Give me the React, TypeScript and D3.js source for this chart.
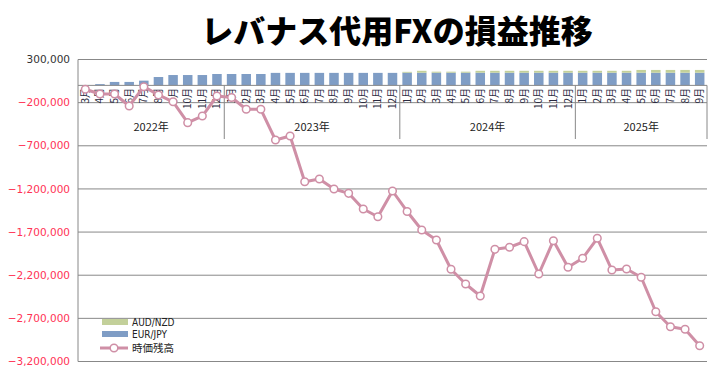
import React from "react";
import * as d3 from "d3";

const months: string[] = [
  "2022-03","2022-04","2022-05","2022-06","2022-07","2022-08","2022-09","2022-10","2022-11","2022-12",
  "2023-01","2023-02","2023-03","2023-04","2023-05","2023-06","2023-07","2023-08","2023-09","2023-10","2023-11","2023-12",
  "2024-01","2024-02","2024-03","2024-04","2024-05","2024-06","2024-07","2024-08","2024-09","2024-10","2024-11","2024-12",
  "2025-01","2025-02","2025-03","2025-04","2025-05","2025-06","2025-07","2025-08","2025-09",
];

const eurJpy: number[] = [
  0, 15000, 40000, 40000, 55000, 97000, 120000, 120000, 120000, 132000,
  132000, 132000, 132000, 145000, 145000, 145000, 145000, 145000, 145000, 145000, 145000, 145000,
  147000, 147000, 147000, 147000, 147000, 147000, 147000, 147000, 147000, 147000, 147000, 147000,
  147000, 147000, 147000, 147000, 147000, 147000, 147000, 147000, 147000,
];

const audNzd: number[] = [
  0, 0, 0, 0, 0, 0, 0, 0, 0, 0,
  0, 0, 0, 0, 0, 0, 0, 0, 0, 0, 0, 0,
  10000, 22000, 12000, 12000, 12000, 22000, 22000, 22000, 22000, 22000, 22000, 22000,
  22000, 22000, 22000, 22000, 32000, 32000, 32000, 32000, 32000,
];

const balance: number[] = [
  -45000, -100000, -100000, -239000, -15000, -111000, -190000, -432000, -355000, -123000,
  -140000, -277000, -277000, -633000, -586000, -1116000, -1085000, -1201000, -1251000, -1433000, -1522000, -1224000,
  -1461000, -1676000, -1792000, -2131000, -2302000, -2441000, -1900000, -1876000, -1811000, -2186000, -1800000, -2108000,
  -2004000, -1772000, -2140000, -2128000, -2224000, -2623000, -2797000, -2827000, -3017000,
];

const yTicks: number[] = [300000, -200000, -700000, -1200000, -1700000, -2200000, -2700000, -3200000];
const years: string[] = ["2022", "2023", "2024", "2025"];

const W = 726, H = 377;
const L = 78, R = 707, T = 59.5, B = 361.5;

export default function App() {
  const x = d3.scaleBand<string>().domain(months).range([L, R]).paddingInner(0.35).paddingOuter(0.175);
  const y = d3.scaleLinear().domain([-3200000, 300000]).range([B, T]);
  const step = (R - L) / months.length;
  const cx = (m: string) => (x(m) as number) + x.bandwidth() / 2;
  const fmt = d3.format(",");
  const line = d3.line<number>().x((_, i) => cx(months[i])).y((d) => y(d));
  const y0 = y(0);

  const groups = years.map((yr) => {
    const idx = months.map((m, i) => (m.startsWith(yr) ? i : -1)).filter((i) => i >= 0);
    return { yr, start: idx[0], end: idx[idx.length - 1] + 1 };
  });

  const green = "#C3D09A";
  const blue = "#7F9DC5";
  const pink = "#CF8FA6";

  return (
    <div style={{ position: "fixed", left: 0, top: 0 }}>
      <svg width={W} height={H} style={{ display: "block", background: "#fff" }}>
        <text x={397} y={43} textAnchor="middle" fontFamily="'Noto Sans CJK JP'" fontWeight={900} fontSize={32} fill="#000">
          レバナス代用FXの損益推移
        </text>
        {yTicks.map((t) => (
          <g key={t}>
            <line x1={L} x2={R} y1={y(t)} y2={y(t)} stroke="#888" strokeWidth={1} />
            <text x={70} y={y(t)} dy="0.35em" textAnchor="end" fontFamily="'DejaVu Sans'" fontSize={10.5}
              fill={t < 0 ? "#FF3355" : "#333"}>{fmt(t)}</text>
          </g>
        ))}
        <line x1={L} x2={L} y1={T} y2={B} stroke="#888" strokeWidth={1} />
        {months.map((m, i) => (
          <g key={m}>
            <rect x={x(m)} width={x.bandwidth()} y={y(eurJpy[i])} height={y0 - y(eurJpy[i])} fill={blue} />
            <rect x={x(m)} width={x.bandwidth()} y={y(eurJpy[i] + audNzd[i])} height={y(eurJpy[i]) - y(eurJpy[i] + audNzd[i])} fill={green} />
          </g>
        ))}
        <line x1={L} x2={R} y1={y0} y2={y0} stroke="#888" strokeWidth={1} />
        {groups.map((g) => (
          <g key={g.yr}>
            <line x1={L + g.end * step} x2={L + g.end * step} y1={y0} y2={139} stroke="#888" strokeWidth={1} />
            <text x={L + ((g.start + g.end) / 2) * step} y={127} dy="0.35em" textAnchor="middle"
              fontFamily="'Noto Sans CJK JP'" fontSize={11} fill="#222">{g.yr}年</text>
          </g>
        ))}
        {months.map((m) => (
          <text key={"l" + m} transform={`translate(${cx(m)},88) rotate(-90)`} dy="0.35em" textAnchor="end"
            fontFamily="'Noto Sans CJK JP'" fontSize={10} fill="#2a2a40">{parseInt(m.slice(5), 10)}月</text>
        ))}
        <path d={line(balance) as string} fill="none" stroke={pink} strokeWidth={3} strokeLinejoin="round" />
        {balance.map((v, i) => (
          <circle key={"c" + i} cx={cx(months[i])} cy={y(v)} r={3.8} fill="#fff" stroke={pink} strokeWidth={1.5} />
        ))}
        <g fill="#222">
          <rect x={102} y={319} width={26} height={6} fill={green} />
          <text x={132} y={322} dy="0.35em" fontFamily="'DejaVu Sans Condensed', 'DejaVu Sans'" fontSize={10}>AUD/NZD</text>
          <rect x={102} y={331} width={26} height={6} fill={blue} />
          <text x={132} y={334} dy="0.35em" fontFamily="'DejaVu Sans Condensed', 'DejaVu Sans'" fontSize={10}>EUR/JPY</text>
          <line x1={100} x2={128} y1={348} y2={348} stroke={pink} strokeWidth={3} />
          <circle cx={114} cy={348} r={3.8} fill="#fff" stroke={pink} strokeWidth={1.5} />
          <text x={132} y={348} dy="0.35em" fontFamily="'Noto Sans CJK JP'" fontSize={10.5}>時価残高</text>
        </g>
      </svg>
    </div>
  );
}
